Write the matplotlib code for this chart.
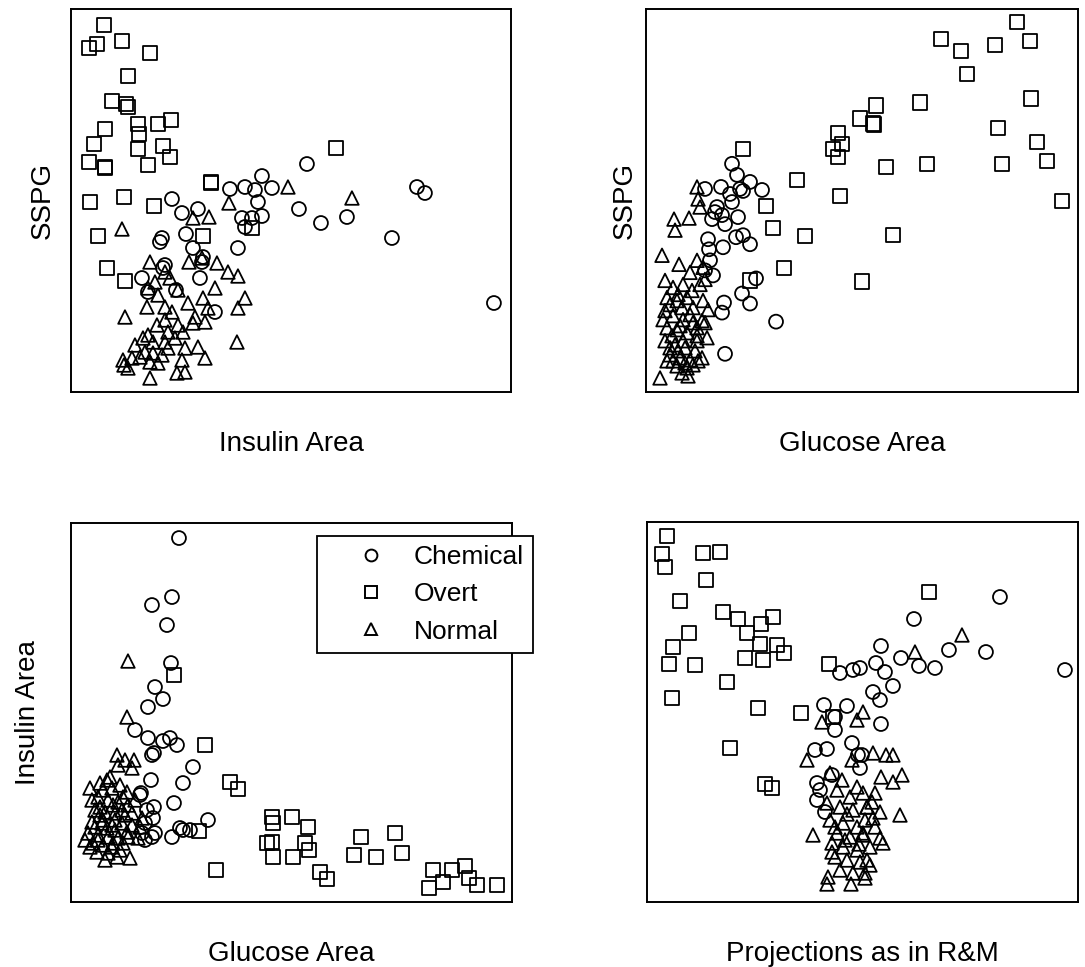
import matplotlib
matplotlib.use("Agg")
import matplotlib.pyplot as plt
from matplotlib.lines import Line2D

plt.rcParams["font.family"] = ["Liberation Sans", "DejaVu Sans"]

# values; the original panels carry no ticks,
# so the units are arbitrary (0 = left / bottom edge of each panel)

# top left: Insulin Area (x) vs SSPG (y)
tl_overt = [(33, 367), (18, 344), (26, 348), (51, 351), (79, 339), (57, 316), (41, 291),
            (55, 288), (57, 285), (34, 263), (23, 248), (67, 268), (68, 258), (87, 268),
            (100, 272), (67, 243), (92, 246), (99, 235), (18, 230), (34, 225), (34, 224),
            (77, 227), (140, 210), (140, 209), (19, 190), (53, 195), (83, 186), (27, 156),
            (132, 156), (36, 124), (54, 111), (181, 164), (265, 244)]
tl_chem = [(191, 216), (174, 205), (159, 203), (184, 202), (201, 204), (187, 190), (171, 174),
           (191, 176), (174, 165), (101, 193), (111, 179), (127, 183), (115, 158), (89, 150),
           (91, 154), (167, 144), (122, 144), (131, 130), (92, 124), (71, 114), (129, 114),
           (144, 80), (77, 100), (105, 102), (236, 228), (228, 183), (250, 169), (276, 175),
           (321, 154), (346, 205), (354, 199), (423, 89), (94, 127), (132, 135), (181, 174)]
tl_norm = [(217, 205), (158, 189), (122, 174), (138, 175), (51, 163), (79, 130), (118, 130),
           (131, 134), (146, 129), (157, 120), (167, 116), (94, 120), (99, 114), (84, 110),
           (77, 104), (107, 102), (144, 104), (87, 97), (132, 94), (174, 94), (167, 84),
           (76, 85), (54, 75), (94, 85), (101, 80), (117, 89), (124, 75), (134, 70), (122, 69),
           (94, 72), (107, 67), (86, 67), (97, 60), (77, 57), (72, 54), (64, 47), (82, 50),
           (94, 50), (104, 54), (112, 60), (114, 44), (127, 45), (134, 34), (111, 32), (97, 44),
           (74, 40), (69, 35), (79, 30), (87, 29), (52, 32), (53, 27), (57, 24), (79, 14),
           (106, 19), (114, 20), (166, 50), (137, 84), (91, 37), (82, 39), (61, 34), (281, 194)]

# top right: Glucose Area (x) vs SSPG (y)
tr_overt = [(97, 242), (151, 211), (194, 195), (120, 185), (127, 163), (159, 155), (138, 123),
            (104, 111), (216, 110), (192, 258), (187, 242), (196, 247), (192, 234), (214, 272),
            (371, 368), (295, 351), (315, 339), (349, 345), (384, 349), (321, 316), (230, 285),
            (274, 288), (385, 292), (352, 263), (227, 267), (228, 266), (391, 249), (240, 224),
            (281, 227), (356, 227), (401, 230), (416, 190), (247, 156)]
tr_chem = [(86, 227), (91, 216), (104, 209), (116, 201), (97, 200), (75, 204), (59, 202),
           (86, 189), (71, 184), (76, 176), (79, 167), (92, 174), (97, 156), (104, 147),
           (90, 154), (77, 144), (62, 152), (63, 142), (64, 131), (67, 116), (59, 121),
           (110, 113), (96, 98), (104, 88), (78, 89), (76, 79), (130, 70), (79, 38), (69, 179),
           (66, 172), (84, 197), (94, 202)]
tr_norm = [(51, 204), (52, 192), (54, 184), (28, 172), (29, 161), (43, 173), (16, 136),
           (33, 127), (44, 119), (51, 131), (57, 124), (59, 112), (19, 111), (27, 104),
           (37, 107), (21, 94), (31, 91), (41, 94), (47, 84), (57, 91), (62, 82), (19, 81),
           (27, 76), (37, 72), (47, 69), (56, 71), (21, 64), (31, 62), (41, 59), (51, 56),
           (61, 54), (19, 51), (29, 47), (39, 44), (49, 41), (24, 37), (34, 34), (44, 32),
           (21, 31), (31, 26), (41, 24), (47, 27), (36, 19), (42, 16), (14, 14), (32, 41),
           (26, 56), (36, 84), (46, 101), (54, 107), (24, 87), (51, 51), (17, 72), (56, 34),
           (37, 51), (27, 31), (34, 66), (44, 77), (24, 44), (39, 29), (52, 31), (32, 97),
           (51, 64), (59, 69)]

# bottom left: Glucose Area (x) vs Insulin Area (y)
bl_chem = [(108, 364), (101, 305), (81, 297), (96, 277), (100, 239), (84, 215), (92, 203),
           (77, 195), (64, 172), (77, 164), (92, 161), (99, 164), (106, 157), (81, 147),
           (83, 149), (122, 135), (80, 122), (112, 119), (70, 109), (69, 107), (103, 99),
           (83, 95), (82, 84), (74, 79), (84, 69), (101, 65), (109, 74), (112, 72), (119, 72),
           (137, 82), (74, 62), (71, 69), (81, 65), (76, 92)]
bl_overt = [(103, 227), (134, 157), (159, 120), (167, 113), (128, 71), (145, 32), (201, 85),
            (202, 79), (221, 85), (196, 59), (201, 60), (202, 45), (222, 45), (237, 75),
            (234, 59), (238, 52), (249, 30), (256, 23), (290, 65), (283, 47), (305, 45),
            (324, 69), (331, 49), (362, 32), (381, 32), (394, 36), (358, 14), (398, 24),
            (406, 17), (426, 17), (372, 20)]
bl_norm = [(57, 241), (56, 185), (46, 147), (54, 142), (63, 142), (61, 134), (47, 137),
           (19, 114), (29, 119), (36, 122), (41, 114), (49, 117), (56, 110), (27, 105),
           (37, 102), (47, 100), (57, 97), (64, 102), (24, 92), (34, 90), (44, 89), (54, 87),
           (21, 80), (31, 79), (41, 77), (51, 79), (61, 77), (69, 75), (17, 69), (27, 67),
           (37, 65), (47, 64), (57, 65), (67, 64), (22, 59), (32, 57), (42, 59), (52, 59),
           (26, 50), (37, 49), (46, 45), (59, 44), (34, 42), (14, 62), (29, 95), (42, 97),
           (52, 105), (32, 82), (24, 75), (44, 72), (61, 89), (71, 84), (49, 52), (19, 55),
           (39, 125), (32, 112), (27, 62), (41, 55), (51, 92), (36, 74), (56, 70), (29, 87),
           (21, 102), (44, 82)]

# bottom right: projections as in Reaven & Miller
br_overt = [(20, 366), (15, 348), (18, 335), (56, 349), (73, 350), (59, 322), (33, 301),
            (76, 290), (91, 283), (114, 278), (126, 285), (100, 269), (42, 269), (26, 255),
            (113, 258), (130, 257), (137, 249), (98, 244), (116, 242), (22, 238), (48, 237),
            (80, 220), (25, 204), (111, 194), (154, 189), (182, 238), (83, 154), (118, 118),
            (125, 114), (186, 185), (282, 310)]
br_chem = [(193, 229), (206, 232), (213, 234), (177, 197), (200, 196), (188, 172), (188, 185),
           (168, 152), (180, 153), (205, 159), (211, 147), (213, 134), (185, 127), (170, 119),
           (170, 102), (178, 90), (353, 305), (267, 283), (234, 256), (229, 239), (254, 244),
           (272, 236), (288, 234), (302, 252), (339, 250), (418, 232), (238, 230), (246, 216),
           (226, 210), (233, 202), (234, 178), (215, 147), (173, 112)]
br_norm = [(175, 180), (210, 182), (216, 190), (160, 142), (205, 142), (166, 67), (183, 129),
           (195, 122), (210, 115), (190, 112), (203, 105), (216, 109), (180, 99), (193, 95),
           (206, 92), (220, 95), (183, 82), (196, 79), (210, 75), (190, 69), (203, 65),
           (216, 67), (185, 59), (196, 55), (210, 52), (188, 45), (200, 42), (213, 40),
           (193, 32), (206, 29), (181, 25), (315, 267), (268, 250), (226, 149), (239, 147),
           (246, 147), (234, 125), (246, 120), (255, 127), (253, 87), (228, 109), (220, 95),
           (233, 90), (218, 82), (226, 84), (216, 69), (233, 64), (236, 59), (223, 55),
           (220, 42), (223, 37), (218, 29), (180, 18), (204, 18), (218, 24), (225, 100),
           (200, 88), (188, 75), (212, 58), (198, 62), (228, 75), (185, 50)]

groups = ["Chemical", "Overt", "Normal"]
markers = {"Chemical": "o", "Overt": "s", "Normal": "^"}
sizes = {"Chemical": 100, "Overt": 105, "Normal": 95}

panels = [
    # rect (fig fraction), xlim, ylim, data, xlabel, ylabel, ylabel x offset
    ([0.0654, 0.5946, 0.4055, 0.3961], 440, 383,
     {"Chemical": tl_chem, "Overt": tl_overt, "Normal": tl_norm},
     "Insulin Area", "SSPG", -0.064),
    ([0.5954, 0.5946, 0.3982, 0.3961], 432, 381,
     {"Chemical": tr_chem, "Overt": tr_overt, "Normal": tr_norm},
     "Glucose Area", "SSPG", -0.05),
    ([0.0654, 0.0672, 0.4065, 0.3919], 441, 379,
     {"Chemical": bl_chem, "Overt": bl_overt, "Normal": bl_norm},
     "Glucose Area", "Insulin Area", -0.097),
    ([0.5963, 0.0672, 0.3972, 0.3930], 431, 380,
     {"Chemical": br_chem, "Overt": br_overt, "Normal": br_norm},
     "Projections as in R&M", None, 0),
]

fig = plt.figure(figsize=(10.85, 9.67), dpi=100)

axes = []
for rect, xmax, ymax, data, xlab, ylab, yoff in panels:
    ax = fig.add_axes(rect)
    for g in groups:
        xs = [p[0] for p in data[g]]
        ys = [p[1] for p in data[g]]
        ax.scatter(xs, ys, s=sizes[g], marker=markers[g], facecolors="none",
                   edgecolors="black", linewidths=1.3)
    ax.set_xlim(0, xmax)
    ax.set_ylim(0, ymax)
    ax.set_xticks([])
    ax.set_yticks([])
    for sp in ax.spines.values():
        sp.set_linewidth(1.4)
    ax.text(0.5, -0.137, xlab, transform=ax.transAxes, ha="center", va="center",
            fontsize=20)
    if ylab:
        ax.text(yoff, 0.5, ylab, transform=ax.transAxes, ha="center", va="center",
                rotation=90, fontsize=20)
    axes.append(ax)

handles = [Line2D([], [], linestyle="none", marker=markers[g], markersize=8.5,
                  markerfacecolor="none", markeredgecolor="black", markeredgewidth=1.4)
           for g in groups]
leg = axes[2].legend(handles, groups, loc="upper left", bbox_to_anchor=(0.558, 0.966),
                     borderaxespad=0, fontsize=19, frameon=True, fancybox=False,
                     edgecolor="black", framealpha=1, handlelength=3.4,
                     handletextpad=-0.1, labelspacing=0.5, borderpad=0.35)
leg.get_frame().set_linewidth(1.3)
leg.set_zorder(5)
leg.set_clip_on(False)

fig.savefig("out.png", dpi=100)
